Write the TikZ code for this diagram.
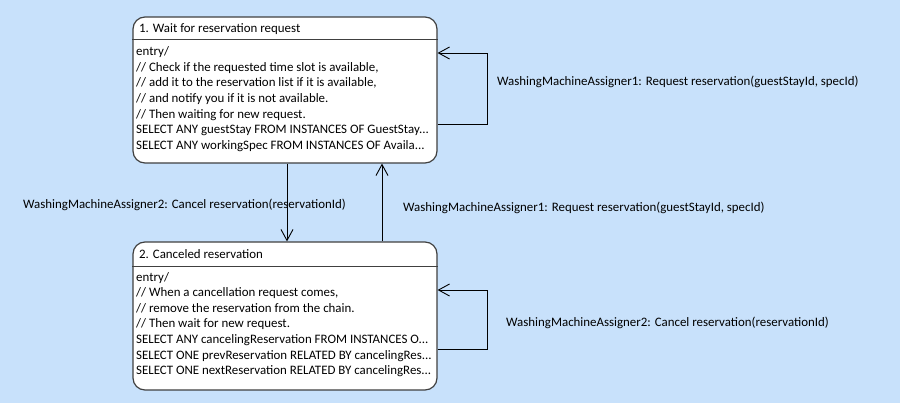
\documentclass[tikz,border=0pt]{standalone}
\usepackage{fontspec}
\setmainfont{Carlito}
\usetikzlibrary{arrows.meta,calc}
\definecolor{bg}{RGB}{200,225,251}
\definecolor{edge}{RGB}{64,64,64}
\tikzset{
  statebox/.style={draw=edge, line width=1.2pt, fill=white, rounded corners=12pt, inner sep=0pt},
  txt/.style={anchor=west, inner sep=0pt, font=\fontsize{12.9}{15.6}\selectfont, text=black},
  body/.style={txt, anchor=north west, align=left},
  conn/.style={line width=0.9pt, -{Straight Barb[length=11pt,width=12pt,line width=0.9pt]}},
}
\begin{document}
\begin{tikzpicture}[x=1pt,y=-1pt]
\fill[bg] (0,0) rectangle (900,403);
\useasboundingbox (0,0) rectangle (900,403);
% states
\node[statebox, minimum width=304pt, minimum height=146pt] (s1) at (285,90) {};
\node[statebox, minimum width=304pt, minimum height=148pt] (s2) at (285,316) {};
\draw[edge, line width=0.9pt] ($(s1.north west)+(0,23)$) -- ($(s1.north east)+(0,23)$);
\draw[edge, line width=0.9pt] ($(s2.north west)+(0,25)$) -- ($(s2.north east)+(0,25)$);
\node[txt] (h1) at (139,29) {1. Wait for reservation request};
\node[txt] (h2) at (139,254) {2. Canceled reservation};
\node[body] (b1) at (136,46.5) {entry/\\
// Check if the requested time slot is available,\\
// add it to the reservation list if it is available,\\
// and notify you if it is not available.\\
// Then waiting for new request.\\
SELECT ANY guestStay FROM INSTANCES OF GuestStay...\\
SELECT ANY workingSpec FROM INSTANCES OF Availa...};
\node[body] (b2) at (136,272) {entry/\\
// When a cancellation request comes,\\
// remove the reservation from the chain.\\
// Then wait for new request.\\
SELECT ANY cancelingReservation FROM INSTANCES O...\\
SELECT ONE prevReservation RELATED BY cancelingRes...\\
SELECT ONE nextReservation RELATED BY cancelingRes...};
% connectors
\draw[conn] ($(s1.south)+(2,0)$) -- ($(s2.north)+(2,0)$);
\draw[conn] ($(s2.north)+(97,0)$) -- ($(s1.south)+(97,0)$);
\draw[conn] ($(s1.east)+(0,34)$) -- ($(s1.east)+(50,34)$) |- ($(s1.east)+(0,-37)$);
\draw[conn] ($(s2.east)+(0,33)$) -- ($(s2.east)+(50,33)$) |- ($(s2.east)+(0,-26)$);
% labels
\node[txt] (l1) at (497,82) {WashingMachineAssigner1: Request reservation(guestStayId, specId)};
\node[txt] (l2) at (23,205) {WashingMachineAssigner2: Cancel reservation(reservationId)};
\node[txt] (l3) at (403,208) {WashingMachineAssigner1: Request reservation(guestStayId, specId)};
\node[txt] (l4) at (506,323) {WashingMachineAssigner2: Cancel reservation(reservationId)};
\end{tikzpicture}
\end{document}
